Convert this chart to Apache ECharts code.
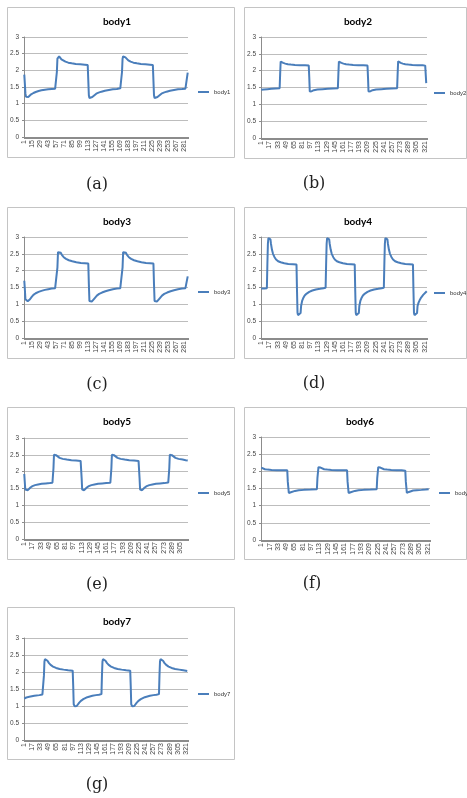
<!DOCTYPE html>
<html><head><meta charset="utf-8">
<script src="https://cdn.jsdelivr.net/npm/echarts@6/dist/echarts.min.js"></script>
<style>html,body{margin:0;padding:0;background:#fff}#c{width:467px;height:798px}</style>
</head><body><div id="c"></div>
<script>
// ---- data ----
const seriesNames = ['body1','body2','body3','body4','body5','body6','body7'];
const legendLabels = ['body1','body2','body3','body4','body5','body','body7'];
const captions = ['(a)','(b)','(c)','(d)','(e)','(f)','(g)'];
const categoryCounts = [287,325,287,325,320,325,325];
const labelSteps = [14,16,14,16,16,16,16];
const yTicks = [0,0.5,1,1.5,2,2.5,3];

// [category index, value]
const body1 = [[0,1.87],[1,1.6],[2,1.3],[3,1.21],[5,1.19],[7,1.2],[9,1.23],[12,1.28],[16,1.32],[20,1.35],[25,1.38],[30,1.4],[36,1.42],[42,1.43],[48,1.44],[54,1.45],[56,1.46],
[57,1.95],[58,2.35],[59,2.41],[61,2.42],[63,2.38],[65,2.33],[68,2.29],[72,2.26],[77,2.23],[83,2.21],[90,2.19],[98,2.18],[106,2.17],[111,2.16],
[112,1.7],[113,1.25],[114,1.17],[117,1.17],[119,1.2],[122,1.25],[126,1.3],[130,1.33],[135,1.36],[141,1.39],[148,1.41],[155,1.43],[162,1.44],[168,1.46],[170,1.47],
[171,1.95],[172,2.35],[173,2.42],[175,2.43],[177,2.39],[179,2.34],[182,2.3],[186,2.26],[191,2.23],[197,2.21],[204,2.19],[212,2.18],[220,2.17],[225,2.16],
[226,1.7],[227,1.25],[228,1.17],[231,1.17],[233,1.2],[236,1.25],[240,1.3],[244,1.33],[249,1.36],[255,1.39],[262,1.41],[269,1.43],[276,1.44],[282,1.45],[285,1.47],[286,1.93]];

const body2 = [[0,1.43],[5,1.44],[12,1.45],[20,1.46],[28,1.47],[36,1.48],
[37,1.9],[38,2.27],[40,2.26],[43,2.23],[47,2.21],[52,2.19],[58,2.18],[66,2.17],[76,2.16],[86,2.16],[93,2.15],
[94,1.8],[95,1.38],[96,1.37],[99,1.39],[103,1.42],[110,1.44],[120,1.45],[130,1.46],[140,1.47],[150,1.48],
[151,1.9],[152,2.27],[154,2.26],[157,2.23],[161,2.21],[166,2.19],[172,2.18],[180,2.17],[190,2.16],[200,2.16],[208,2.15],
[209,1.8],[210,1.38],[211,1.37],[214,1.39],[218,1.42],[225,1.44],[235,1.45],[245,1.46],[255,1.47],[266,1.48],
[267,1.9],[268,2.28],[270,2.26],[273,2.23],[277,2.21],[282,2.19],[288,2.18],[296,2.17],[306,2.16],[316,2.16],[321,2.15],[323,1.63]];

const body3 = [[0,1.7],[1,1.45],[2,1.15],[3,1.1],[6,1.09],[8,1.1],[10,1.15],[13,1.22],[16,1.28],[20,1.33],[25,1.37],[30,1.4],[36,1.43],[42,1.45],[48,1.47],[54,1.48],[57,1.49],
[58,2.1],[59,2.55],[60,2.6],[62,2.59],[64,2.53],[66,2.46],[69,2.4],[73,2.35],[78,2.31],[84,2.28],[91,2.25],[99,2.23],[106,2.22],[112,2.21],
[113,1.6],[114,1.1],[115,1.08],[118,1.08],[120,1.11],[123,1.18],[127,1.26],[131,1.31],[136,1.35],[142,1.39],[148,1.42],[155,1.45],[162,1.47],[168,1.48],[171,1.49],
[172,2.1],[173,2.55],[174,2.6],[176,2.59],[178,2.53],[180,2.46],[183,2.4],[187,2.35],[192,2.31],[198,2.28],[205,2.25],[213,2.23],[220,2.22],[226,2.21],
[227,1.6],[228,1.1],[229,1.08],[232,1.08],[234,1.11],[237,1.18],[241,1.26],[245,1.31],[250,1.35],[256,1.39],[262,1.42],[269,1.45],[276,1.47],[282,1.48],[285,1.49],[286,1.83]];

const body4 = [[0,1.47],[6,1.47],[11,1.48],[12,2.2],[13,2.8],[14,2.97],[15,3.0],[17,2.99],[18,2.93],[19,2.8],[21,2.62],[23,2.5],[26,2.4],[29,2.33],[33,2.28],[38,2.25],[45,2.22],[53,2.2],[62,2.19],[69,2.18],
[70,1.4],[71,0.75],[72,0.68],[75,0.68],[77,0.74],[78,0.95],[80,1.1],[82,1.18],[85,1.26],[89,1.32],[94,1.37],[100,1.41],[107,1.44],[115,1.46],[122,1.48],[126,1.49],
[127,2.2],[128,2.8],[129,2.97],[130,3.0],[132,2.99],[133,2.93],[134,2.8],[136,2.62],[138,2.5],[141,2.4],[144,2.33],[148,2.28],[153,2.25],[160,2.22],[168,2.2],[176,2.19],[183,2.18],
[184,1.4],[185,0.75],[186,0.68],[189,0.68],[191,0.74],[192,0.95],[194,1.1],[196,1.18],[199,1.26],[203,1.32],[208,1.37],[214,1.41],[221,1.44],[229,1.46],[236,1.48],[240,1.49],
[241,2.2],[242,2.8],[243,2.97],[244,3.0],[246,2.99],[247,2.93],[248,2.8],[250,2.62],[252,2.5],[255,2.4],[258,2.33],[262,2.28],[267,2.25],[274,2.22],[282,2.2],[290,2.19],[297,2.18],
[298,1.4],[299,0.75],[300,0.68],[303,0.68],[305,0.74],[306,0.95],[308,1.05],[310,1.12],[313,1.2],[317,1.28],[320,1.33],[324,1.39]];

const body5 = [[0,1.93],[1,1.7],[2,1.47],[3,1.45],[7,1.45],[9,1.48],[12,1.53],[16,1.57],[21,1.6],[27,1.62],[34,1.64],[42,1.65],[50,1.66],[55,1.67],
[57,2.1],[58,2.5],[59,2.55],[60,2.54],[62,2.49],[65,2.45],[69,2.41],[75,2.38],[83,2.36],[92,2.34],[101,2.33],[110,2.32],[111,2.3],
[112,1.8],[113,1.47],[114,1.45],[117,1.45],[119,1.48],[122,1.53],[126,1.57],[131,1.6],[137,1.62],[144,1.64],[152,1.65],[160,1.66],[168,1.67],
[170,2.1],[171,2.5],[172,2.55],[173,2.54],[175,2.49],[178,2.45],[182,2.41],[188,2.38],[196,2.36],[205,2.34],[214,2.33],[223,2.32],[224,2.3],
[225,1.8],[226,1.47],[227,1.45],[230,1.45],[232,1.48],[235,1.53],[239,1.57],[244,1.6],[250,1.62],[257,1.64],[265,1.65],[273,1.66],[281,1.68],
[283,2.1],[284,2.5],[285,2.55],[286,2.54],[288,2.49],[291,2.45],[295,2.41],[301,2.38],[309,2.36],[315,2.34],[319,2.33]];

const body6 = [[0,2.11],[3,2.08],[7,2.06],[12,2.05],[20,2.04],[30,2.03],[40,2.03],[50,2.03],
[51,1.7],[53,1.37],[55,1.37],[57,1.39],[60,1.41],[65,1.43],[72,1.45],[82,1.46],[95,1.47],[107,1.48],
[108,1.8],[110,2.12],[112,2.13],[114,2.11],[117,2.08],[121,2.06],[127,2.05],[135,2.04],[145,2.03],[155,2.03],[165,2.03],
[166,1.7],[168,1.37],[170,1.37],[172,1.39],[175,1.41],[180,1.43],[187,1.45],[197,1.46],[210,1.47],[222,1.48],
[223,1.8],[225,2.12],[227,2.13],[229,2.11],[232,2.08],[236,2.06],[242,2.05],[250,2.04],[260,2.03],[270,2.03],[277,2.02],
[278,1.7],[280,1.37],[282,1.38],[284,1.4],[287,1.42],[292,1.44],[299,1.45],[308,1.46],[316,1.47],[322,1.48]];

const body7 = [[0,1.22],[4,1.25],[10,1.27],[20,1.3],[30,1.32],[36,1.34],[38,1.35],
[39,1.9],[40,2.3],[41,2.38],[44,2.38],[46,2.33],[49,2.26],[53,2.2],[57,2.16],[63,2.12],[70,2.09],[78,2.07],[87,2.05],[96,2.04],
[97,1.6],[98,1.05],[100,0.99],[104,1.0],[106,1.04],[109,1.1],[113,1.16],[117,1.2],[121,1.23],[125,1.26],[130,1.28],[135,1.3],[142,1.32],[148,1.33],[153,1.35],
[154,1.9],[155,2.3],[156,2.38],[159,2.38],[161,2.33],[164,2.26],[168,2.2],[172,2.16],[178,2.12],[185,2.09],[193,2.07],[202,2.05],[210,2.04],
[211,1.6],[212,1.05],[214,0.99],[218,1.0],[220,1.04],[223,1.1],[227,1.16],[231,1.2],[235,1.23],[239,1.26],[244,1.28],[249,1.3],[256,1.32],[262,1.33],[267,1.35],
[268,1.9],[269,2.3],[270,2.38],[273,2.38],[275,2.33],[278,2.26],[282,2.2],[286,2.16],[292,2.12],[299,2.09],[307,2.07],[315,2.05],[323,2.03]];

const seriesData = [body1, body2, body3, body4, body5, body6, body7];

// ---- layout (px) ----
const panels = [
  {box:[7,7,227,150],   grid:[24,37,164,100],  title:[117,22],  legend:[198,89],  caption:[97,185]},
  {box:[244,7,222,151], grid:[261,37,166,101], title:[358,22],  legend:[434,90],  caption:[314,184]},
  {box:[7,207,227,151], grid:[24,237,164,101], title:[117,222], legend:[198,289], caption:[97,385]},
  {box:[244,207,222,151],grid:[261,237,166,101],title:[358,222],legend:[434,290], caption:[314,384]},
  {box:[7,407,227,152], grid:[24,438,164,101], title:[117,422], legend:[198,490], caption:[97,585]},
  {box:[244,407,222,152],grid:[261,437,169,103],title:[360,422],legend:[439,490], caption:[312,584]},
  {box:[7,607,227,152], grid:[24,638,164,102], title:[117,622], legend:[198,691], caption:[97,785]}
];

const grids=[], xAxes=[], yAxes=[], series=[], legends=[], graphics=[];
panels.forEach((p,i)=>{
  const cats=[]; for(let k=1;k<=categoryCounts[i];k++) cats.push(String(k));
  graphics.push({type:'rect', silent:true, shape:{x:p.box[0]+0.5,y:p.box[1]+0.5,width:p.box[2],height:p.box[3]},
    style:{fill:'none', stroke:'#c4c4c4', lineWidth:1}});
  graphics.push({type:'text', silent:true, x:p.title[0], y:p.title[1],
    style:{text:seriesNames[i], font:'bold 10px Lato, "Open Sans", sans-serif', fill:'#000', textAlign:'center', textVerticalAlign:'middle'}});
  graphics.push({type:'text', silent:true, x:p.caption[0], y:p.caption[1],
    style:{text:captions[i], font:'16px "DejaVu Serif", serif', fill:'#222', textAlign:'center', textVerticalAlign:'middle'}});
  grids.push({left:p.grid[0], top:p.grid[1], width:p.grid[2], height:p.grid[3], containLabel:false});
  xAxes.push({type:'category', gridIndex:i, data:cats, boundaryGap:true,
    axisLine:{lineStyle:{color:'#8c8c8c', width:1}},
    axisTick:{show:true, interval:0, length:2, lineStyle:{color:'#8c8c8c'}},
    axisLabel:{interval:labelSteps[i]-1, rotate:90, fontSize:7, color:'#444', margin:3, fontFamily:'Liberation Sans, Arial'},
    splitLine:{show:false}});
  yAxes.push({type:'value', gridIndex:i, min:yTicks[0], max:yTicks[yTicks.length-1], interval:yTicks[1]-yTicks[0],
    axisLine:{show:true, lineStyle:{color:'#8c8c8c'}},
    axisTick:{show:true, length:2, lineStyle:{color:'#8c8c8c'}},
    axisLabel:{fontSize:6.5, color:'#444', margin:5, fontFamily:'Liberation Sans, Arial'},
    splitLine:{show:true, lineStyle:{color:'#bdbdbd', width:1}}});
  series.push({type:'line', name:seriesNames[i], xAxisIndex:i, yAxisIndex:i, data:seriesData[i],
    showSymbol:false, symbol:'none', lineStyle:{color:'#4a7ebb', width:2}, itemStyle:{color:'#4a7ebb'}});
  legends.push({data:[seriesNames[i]], left:p.legend[0], top:p.legend[1], orient:'vertical',
    icon:'rect', itemWidth:11, itemHeight:2, itemGap:0, padding:0, selectedMode:false,
    formatter:()=>legendLabels[i],
    textStyle:{fontSize:6, color:'#333', fontFamily:'Liberation Sans, Arial'}});
});

const chart = echarts.init(document.getElementById('c'), null, {renderer:'canvas'});
chart.setOption({
  backgroundColor:'#fff', animation:false,
  grid:grids, xAxis:xAxes, yAxis:yAxes, series:series, legend:legends, graphic:graphics
});
</script></body></html>
